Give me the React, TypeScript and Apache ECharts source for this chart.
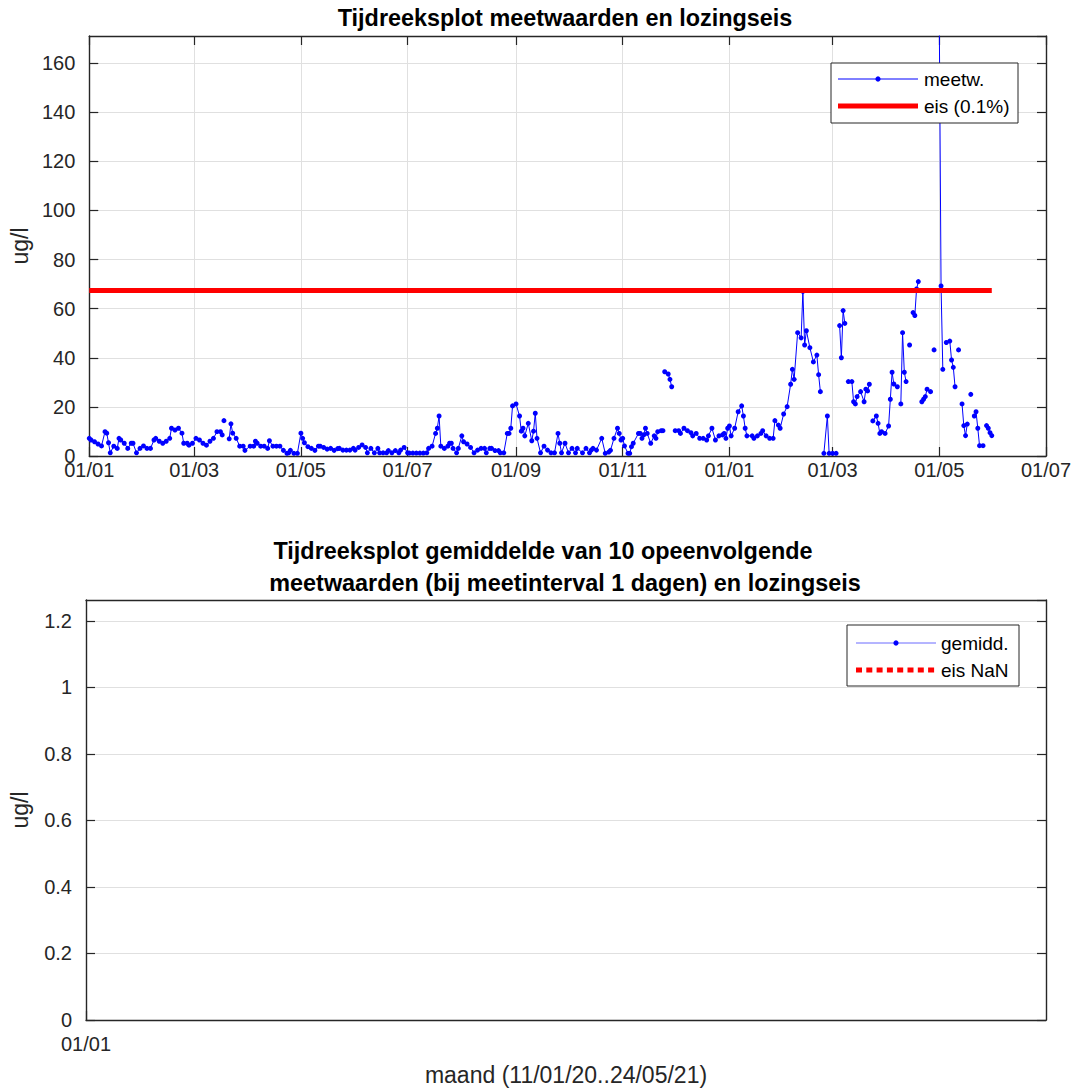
import React, { useEffect, useRef } from 'react';
import * as echarts from 'echarts';

// ---- data (x = days since 2020-01-01, null = gap in the measurement line) ----
const meetwJanApr2020: [number, number | null][] = [
  [0, 7.2], [1, 6.5], [3, 5.8], [5, 4.9], [7, 4.1], [9, 9.9], [10, 9.3], [11, 5.4], [12, 1.3], [14, 4],
  [16, 3.1], [17, 7.2], [18, 6.5], [20, 5.2], [22, 3.1], [24, 5.2], [25, 5.2], [27, 1.3], [29, 3.1], [31, 4.1],
  [33, 3.1], [35, 3.1], [37, 6.5], [38, 7.2], [40, 6], [42, 5.2], [44, 6], [46, 7.2], [47, 11.3], [49, 10.6],
  [51, 11.3], [53, 9.3], [54, 5.2], [56, 5.2], [57, 4.4], [59, 5.2], [61, 7.2], [63, 6.5], [65, 5.2], [67, 4.4],
  [69, 6], [71, 7.2], [73, 9.9], [75, 9.9], [76, 8.6], [76, null], [77, 14.4], [77, null], [80, 7], [81, 13.1],
  [82, 9.3], [84, 7.2], [86, 4], [88, 4], [89, 2.3], [92, 4], [94, 4], [95, 6], [96, 5.2], [98, 4],
  [100, 4], [102, 3.1], [103, 6.2], [105, 4], [107, 4], [109, 4], [111, 2.3], [113, 1.1], [114, 1.3], [115, 2.3],
  [117, 1.1], [119, 1.1],
];
const meetwMayAug2020: [number, number | null][] = [
  [121, 9.3], [122, 7.2], [123, 5.4], [125, 3.8], [127, 3.1], [129, 2.3], [131, 4], [132, 4], [134, 3.5], [136, 2.8],
  [138, 3.1], [140, 2.3], [142, 3], [143, 3.1], [145, 2.4], [147, 2.4], [149, 2.4], [151, 3.1], [152, 2.4], [154, 3.5],
  [156, 4.5], [158, 3.5], [159, 1.3], [161, 3.1], [163, 1.3], [165, 3.1], [166, 1.3], [168, 1.3], [170, 1.3], [171, 2.2],
  [173, 1.3], [175, 2.2], [177, 1.3], [178, 2.4], [180, 3.5], [182, 1.3], [183, 1.2], [185, 1.2], [187, 1.2], [189, 1.2],
  [191, 1.2], [193, 1.3], [194, 3.1], [196, 4], [198, 9.2], [199, 11.3], [200, 16.3], [201, 4], [203, 3.1], [205, 4],
  [206, 5.2], [207, 5.2], [208, 3.1], [210, 1.3], [211, 3.1], [213, 8.2], [214, 5.8], [216, 4.9], [218, 3.5], [220, 1.3],
  [222, 2.4], [224, 3.1], [226, 3.1], [227, 1.3], [229, 3.1], [230, 3.1], [232, 2.2], [234, 2.2], [235, 1.3], [237, 1.3],
];
const meetwSepDec2020: [number, number | null][] = [
  [239, 9.2], [240, 9.2], [241, 11.3], [242, 20.4], [244, 21.2], [246, 16.3], [247, 10.1], [248, 11.3], [249, 8.2], [251, 13.3],
  [253, 6.2], [254, 10.1], [255, 17.4], [256, 7.2], [258, 1.3], [260, 4], [262, 2.4], [264, 1.3], [266, 1.3], [268, 9.2],
  [269, 5.2], [270, 1.3], [272, 5.2], [274, 1.3], [276, 3.1], [278, 1.3], [279, 3.1], [282, 1.3], [284, 3.1], [286, 1.3],
  [287, 2.4], [288, 3.1], [290, 2.4], [293, 7.2], [295, 1.1], [297, 1.6], [298, 2.3], [300, 7.2], [302, 11.3], [303, 9.2],
  [304, 6.5], [305, 7.2], [306, 4.1], [308, 1.1], [309, 1.1], [310, 3.8], [311, 5.2], [314, 9.2], [315, 9.2], [316, 7.2],
  [317, 8.6], [318, 11.3], [319, 9.2], [321, 5.2], [323, 8.2], [324, 7.2], [325, 9.9], [327, 10.3], [328, 10.3], [328, null],
  [329, 34.3], [331, 33.4], [332, 31.2], [333, 28.2], [333, null], [335, 10.3], [337, 10.3], [338, 9.2], [340, 11.3], [342, 10.3],
  [344, 9.5], [345, 8.2], [347, 9.2], [349, 7.2], [351, 7.2], [353, 6.5], [354, 8.2], [356, 11.3], [358, 6.5], [360, 8.2],
  [362, 8.6], [363, 9.2], [364, 7.2], [365, 11.3],
];
const meetwJanMay2021: [number, number | null][] = [
  [366, 12.2], [367, 8.2], [369, 11.3], [371, 18], [373, 20.4], [374, 16.3], [375, 11.3], [376, 8.2], [379, 8.2], [380, 7.2],
  [382, 8.2], [384, 9.2], [385, 10.3], [387, 8.2], [389, 7.2], [391, 7.2], [392, 14.4], [394, 12.6], [395, 11.3], [397, 17.1],
  [399, 20.1], [401, 29.2], [402, 35.3], [403, 31.2], [405, 50.2], [407, 48.1], [408, 67], [409, 45.2], [410, 51], [412, 44.1],
  [414, 38.3], [416, 41.1], [417, 33.1], [418, 26.2], [418, null], [420, 1.1], [422, 16.3], [423, 1.1], [425, 1.1], [427, 1.1],
  [427, null], [429, 53.1], [430, 40], [431, 59.2], [432, 54], [432, null], [434, 30.3], [436, 30.3], [437, 22.1], [438, 21.2],
  [439, 24.2], [441, 26.2], [443, 22.1], [444, 27.2], [445, 26.5], [446, 29.2], [446, null], [448, 14.3], [450, 16.3], [451, 13.3],
  [452, 9.2], [453, 9.9], [455, 9.2], [457, 12.2], [458, 23.1], [459, 34.1], [460, 29.3], [462, 28.2], [462, null], [464, 21.2],
  [465, 50.2], [466, 34.1], [467, 30.3], [467, null], [469, 45.2], [469, null], [471, 58.4], [472, 57.2], [473, 68], [474, 71],
  [474, null], [476, 22.1], [477, 23.1], [478, 24.2], [479, 27.2], [481, 26.2], [481, null], [483, 43.2], [483, null], [486, 176],
  [487, 69.2], [488, 35.3], [488, null], [490, 46.2], [492, 46.8], [493, 39.1], [494, 36.1], [495, 28.2], [495, null], [497, 43.2],
  [497, null], [499, 21.2], [500, 12.4], [501, 8.3], [502, 13], [502, null], [504, 25.1], [504, null], [506, 16.3], [507, 18],
  [508, 11.3], [509, 4.2], [511, 4.2], [511, null], [513, 12.4], [514, 11.3], [515, 9.5], [516, 8.3],
];
const eisDays = [0, 516];
const eisValues = [67.4, 67.4];
const gemiddData: [number, number][] = [];
const eisNaNData: [number, number][] = [];

const monthTickDays = [0, 60, 121, 182, 244, 305, 366, 425, 486, 547];
const bottomTickDays = [0];
const xMax = 547;
const yTopMax = 171;
const yBottomMax = 1.263;

const topTitle = 'Tijdreeksplot meetwaarden en lozingseis';
const bottomTitle1 = 'Tijdreeksplot gemiddelde van 10 opeenvolgende';
const bottomTitle2 = 'meetwaarden (bij meetinterval 1 dagen) en lozingseis';
const yName = 'ug/l';
const xName = 'maand (11/01/20..24/05/21)';

const FONT = "'Liberation Sans', Arial, Helvetica, sans-serif";
const AX = '#262626';
const GRIDC = '#e0e0e0';
const TITLE_SIZE = 23.4;
const NAME_SIZE = 23;
const TICK_SIZE = 20;
const LEGEND_SIZE = 19;

function fmtDay(v: number): string {
  const d = new Date(Date.UTC(2020, 0, 1) + Math.round(v) * 86400000);
  const p = (n: number) => (n < 10 ? '0' + n : '' + n);
  return p(d.getUTCDate()) + '/' + p(d.getUTCMonth() + 1);
}

export default function App() {
  const ref = useRef<HTMLDivElement>(null);
  useEffect(() => {
    document.body.style.margin = '0';
    if (!ref.current) return;
    const chart = echarts.init(ref.current, undefined, { renderer: 'svg' });
    const meetw = [...meetwJanApr2020, ...meetwMayAug2020, ...meetwSepDec2020, ...meetwJanMay2021];
    const axisLine = { show: true, onZero: false, lineStyle: { color: AX, width: 1.4 } };
    const tick = (vals: number[] | null, show = true) => ({
      show,
      inside: true,
      length: 9,
      lineStyle: { color: AX, width: 1.2 },
      ...(vals ? { customValues: vals } : {}),
    });
    const lbl = { fontFamily: FONT, fontSize: TICK_SIZE, color: AX };
    const titleStyle = { fontFamily: FONT, fontSize: TITLE_SIZE, fontWeight: 'bold', color: '#000' };
    const nameStyle = { fontFamily: FONT, fontSize: NAME_SIZE, color: AX };
    const legText = { fontFamily: FONT, fontSize: LEGEND_SIZE, fill: '#000', verticalAlign: 'middle' };
    const option: any = {
      animation: false,
      backgroundColor: '#fff',
      textStyle: { fontFamily: FONT },
      title: [
        { text: topTitle, left: 565, top: 6, textAlign: 'center', padding: 0, textStyle: titleStyle },
        { text: bottomTitle1, left: 543, top: 539, textAlign: 'center', padding: 0, textStyle: titleStyle },
        { text: bottomTitle2, left: 565, top: 571, textAlign: 'center', padding: 0, textStyle: titleStyle },
      ],
      grid: [
        { left: 86, top: 36, width: 960, height: 420, containLabel: false },
        { left: 86, top: 600, width: 960, height: 420, containLabel: false },
      ],
      xAxis: [
        {
          type: 'value', gridIndex: 0, min: 0, max: xMax, position: 'bottom',
          axisLine, axisTick: tick(monthTickDays),
          axisLabel: { ...lbl, customValues: monthTickDays, formatter: (v: number) => fmtDay(v), margin: 4 },
          splitLine: { show: true, lineStyle: { color: GRIDC, width: 1 } },
        },
        {
          type: 'value', gridIndex: 0, min: 0, max: xMax, position: 'top',
          axisLine, axisTick: tick(monthTickDays), axisLabel: { show: false }, splitLine: { show: false },
        },
        {
          type: 'value', gridIndex: 1, min: 0, max: xMax, position: 'bottom',
          axisLine, axisTick: tick(bottomTickDays),
          axisLabel: { ...lbl, customValues: bottomTickDays, formatter: (v: number) => fmtDay(v), margin: 14 },
          splitLine: { show: false },
          name: xName, nameLocation: 'middle', nameGap: 43, nameTextStyle: nameStyle,
        },
        {
          type: 'value', gridIndex: 1, min: 0, max: xMax, position: 'top',
          axisLine, axisTick: { show: false }, axisLabel: { show: false }, splitLine: { show: false },
        },
      ],
      yAxis: [
        {
          type: 'value', gridIndex: 0, min: 0, max: yTopMax, interval: 20, position: 'left',
          axisLine, axisTick: tick(null),
          axisLabel: { ...lbl, margin: 14, showMaxLabel: false },
          splitLine: { show: true, lineStyle: { color: GRIDC, width: 1 } },
          name: yName, nameLocation: 'middle', nameGap: 55, nameTextStyle: nameStyle,
        },
        {
          type: 'value', gridIndex: 0, min: 0, max: yTopMax, interval: 20, position: 'right',
          axisLine, axisTick: tick(null), axisLabel: { show: false }, splitLine: { show: false },
        },
        {
          type: 'value', gridIndex: 1, min: 0, max: yBottomMax, interval: 0.2, position: 'left',
          axisLine, axisTick: tick(null),
          axisLabel: { ...lbl, margin: 14, showMaxLabel: false },
          splitLine: { show: true, lineStyle: { color: GRIDC, width: 1 } },
          name: yName, nameLocation: 'middle', nameGap: 55, nameTextStyle: nameStyle,
        },
        {
          type: 'value', gridIndex: 1, min: 0, max: yBottomMax, interval: 0.2, position: 'right',
          axisLine, axisTick: tick(null), axisLabel: { show: false }, splitLine: { show: false },
        },
      ],
      series: [
        {
          name: 'meetw.', type: 'line', xAxisIndex: 0, yAxisIndex: 0,
          data: meetw, connectNulls: false, clip: true,
          symbol: 'circle', symbolSize: 5, showSymbol: true, showAllSymbol: true,
          lineStyle: { color: '#0000ff', width: 1 }, itemStyle: { color: '#0000ff' },
          z: 3,
        },
        {
          name: 'eis (0.1%)', type: 'line', xAxisIndex: 0, yAxisIndex: 0,
          data: eisDays.map((d, i) => [d, eisValues[i]]),
          symbol: 'none', lineStyle: { color: '#ff0000', width: 5 }, z: 4,
        },
        {
          name: 'gemidd.', type: 'line', xAxisIndex: 2, yAxisIndex: 2, data: gemiddData,
          symbol: 'circle', symbolSize: 5, lineStyle: { color: '#0000ff', width: 1 }, itemStyle: { color: '#0000ff' },
        },
        {
          name: 'eis NaN', type: 'line', xAxisIndex: 2, yAxisIndex: 2, data: eisNaNData,
          symbol: 'none', lineStyle: { color: '#ff0000', width: 5, type: [6, 5] },
        },
      ],
      graphic: [
        // legend of upper plot
        { type: 'rect', z: 100, shape: { x: 831, y: 63, width: 187, height: 60 }, style: { fill: '#fff', stroke: AX, lineWidth: 1 } },
        { type: 'line', z: 101, shape: { x1: 838, y1: 79, x2: 918, y2: 79 }, style: { stroke: '#0000ff', lineWidth: 1 } },
        { type: 'circle', z: 101, shape: { cx: 878, cy: 79, r: 2.6 }, style: { fill: '#0000ff' } },
        { type: 'text', z: 101, x: 924, y: 79, style: { ...legText, text: 'meetw.' } },
        { type: 'line', z: 101, shape: { x1: 838, y1: 106, x2: 918, y2: 106 }, style: { stroke: '#ff0000', lineWidth: 5 } },
        { type: 'text', z: 101, x: 924, y: 106, style: { ...legText, text: 'eis (0.1%)' } },
        // legend of lower plot
        { type: 'rect', z: 100, shape: { x: 847, y: 625, width: 172, height: 61 }, style: { fill: '#fff', stroke: AX, lineWidth: 1 } },
        { type: 'line', z: 101, shape: { x1: 856, y1: 643, x2: 936, y2: 643 }, style: { stroke: '#6b6bff', lineWidth: 1 } },
        { type: 'circle', z: 101, shape: { cx: 896, cy: 643, r: 2.6 }, style: { fill: '#0000ff' } },
        { type: 'text', z: 101, x: 941, y: 643, style: { ...legText, text: 'gemidd.' } },
        { type: 'line', z: 101, shape: { x1: 856, y1: 670, x2: 936, y2: 670 }, style: { stroke: '#ff0000', lineWidth: 5, lineDash: [6, 4.3] } },
        { type: 'text', z: 101, x: 941, y: 670, style: { ...legText, text: 'eis NaN' } },
      ],
    };
    chart.setOption(option);
    return () => chart.dispose();
  }, []);
  return <div ref={ref} style={{ width: 1076, height: 1089 }} />;
}
